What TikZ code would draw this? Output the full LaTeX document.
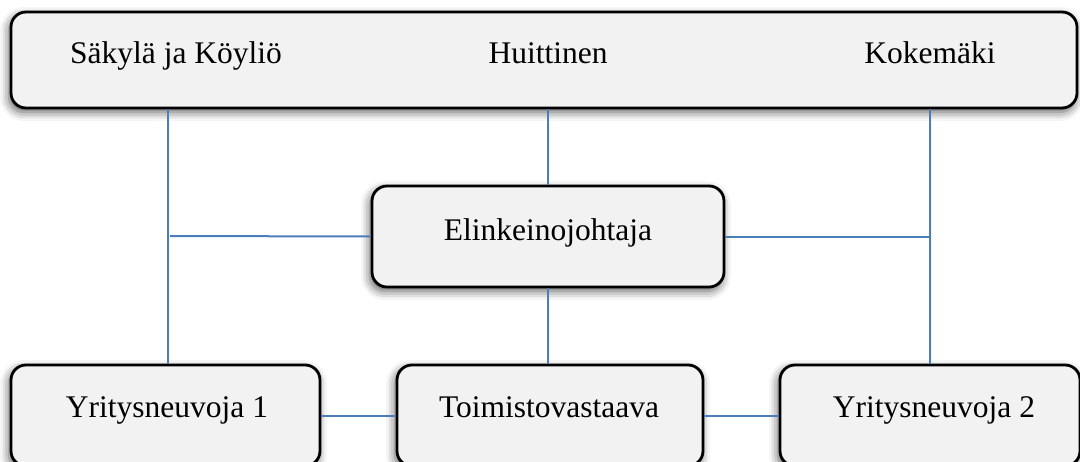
\documentclass[tikz,border=0pt]{standalone}
\usepackage{fontspec}
\setmainfont{Liberation Serif}
\usetikzlibrary{shadows.blur}
\definecolor{boxfill}{RGB}{242,242,242}
\definecolor{linkblue}{RGB}{74,126,187}
\begin{document}
\begin{tikzpicture}[x=1pt,y=-1pt,
  orgbox/.style={draw=black, line width=2.8pt, rounded corners=15pt, fill=boxfill,
    inner sep=0pt, blur shadow={shadow xshift=-2pt, shadow yshift=-4pt,
    shadow blur radius=9pt, shadow opacity=65}},
  lbl/.style={anchor=base, inner sep=0pt, font=\fontsize{31.5}{36}\selectfont},
  link/.style={draw=linkblue, line width=2pt}]
\useasboundingbox (0,0) rectangle (1080,461);
\clip (0,0) rectangle (1080,461);

% boxes
\node[orgbox, minimum width=1066, minimum height=96] (top) at (544,60) {};
\node[orgbox, minimum width=352, minimum height=101] (mid) at (548,236.5) {};
\node[orgbox, minimum width=309, minimum height=101] (yn1) at (165.5,415.5) {};
\node[orgbox, minimum width=306, minimum height=101] (tv) at (550,415.5) {};
\node[orgbox, minimum width=300, minimum height=101] (yn2) at (930,415.5) {};

% labels
\node[lbl] (t1) at (176,63) {Säkylä ja Köyliö};
\node[lbl] (t2) at (548,63) {Huittinen};
\node[lbl] (t3) at (930,63) {Kokemäki};
\node[lbl] (tm) at (548,240) {Elinkeinojohtaja};
\node[lbl] (tb1) at (167,417) {Yritysneuvoja 1};
\node[lbl] (tb2) at (549,417) {Toimistovastaava};
\node[lbl] (tb3) at (934,417) {Yritysneuvoja 2};

% connector guides
\coordinate (lx) at (168,0);
\coordinate (rx) at (930,0);
\coordinate (mx) at (548,0);
\coordinate (lstub) at (170,236);

% connectors
\draw[link] (top.south -| lx) -- (yn1.north -| lx);
\draw[link] (top.south -| rx) -- (yn2.north -| rx);
\draw[link] (top.south -| mx) -- (mid.north -| mx);
\draw[link] (mid.south -| mx) -- (tv.north -| mx);
\draw[link] (mid.west) -- (lstub);
\draw[link] (mid.east) -- (mid.east -| rx);
\draw[link] (yn1.east) -- (tv.west);
\draw[link] (tv.east) -- (yn2.west);
\end{tikzpicture}
\end{document}
